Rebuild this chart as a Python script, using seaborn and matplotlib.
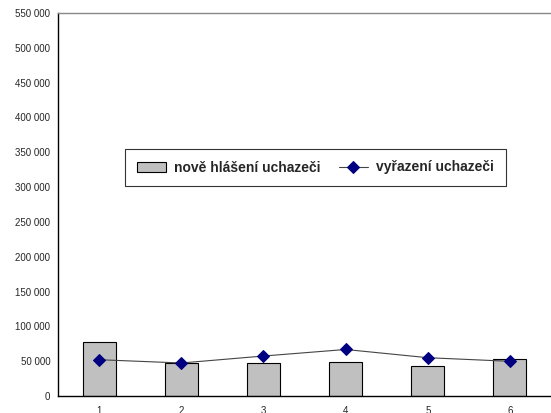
import pandas as pd
import matplotlib
matplotlib.use("Agg")
import matplotlib.pyplot as plt
import matplotlib.ticker as mticker
import seaborn as sns

# data
mesice = [1, 2, 3, 4, 5, 6]
nove_hlaseni = [77000, 47900, 47400, 48800, 42700, 53100]
vyrazeni = [52100, 47400, 57400, 66800, 55000, 49800]

df = pd.DataFrame({"mesic": mesice, "nove": nove_hlaseni, "vyrazeni": vyrazeni})

sns.set_style("white")
plt.rcParams["font.family"] = ["Liberation Sans", "DejaVu Sans"]

fig = plt.figure(figsize=(5.51, 4.13), dpi=100)
ax = fig.add_axes([58 / 551, 1 - 396 / 413, 1 - 58 / 551, (396 - 13) / 413])

# sloupce
sns.barplot(data=df, x="mesic", y="nove", native_scale=True, width=0.4,
            color="#C0C0C0", edgecolor="black", linewidth=0.8, saturation=1,
            ax=ax, label="nově hlášení uchazeči")

# čára s kosočtverci
sns.lineplot(data=df, x="mesic", y="vyrazeni", color="#444444", linewidth=0.8,
             marker="D", markersize=6.3, markerfacecolor="#000080",
             markeredgecolor="#000080", ax=ax, label="vyřazení uchazeči")

ax.set_xlim(0.5, 0.5 + (551 - 58) / 84.2)
ax.set_ylim(0, 550000)
ax.yaxis.set_major_locator(mticker.MultipleLocator(50000))
ax.yaxis.set_major_formatter(mticker.FuncFormatter(lambda v, p: f"{int(v):,}".replace(",", " ")))

# popisky na středech, čárky na hranicích
ax.set_xticks(mesice)
ax.set_xticklabels([str(m) for m in mesice])
ax.set_xticks([m + 0.5 for m in [0] + mesice], minor=True)
ax.tick_params(axis="x", which="major", length=0, pad=7, labelsize=7)
ax.tick_params(axis="x", which="minor", direction="inout", length=7, width=0.8, color="black")
ax.tick_params(axis="y", which="major", direction="inout", length=7, width=0.8,
               color="black", labelsize=7, pad=2)

ax.set_xlabel("")
ax.set_ylabel("")

ax.spines["right"].set_visible(False)
ax.spines["left"].set_color("black")
ax.spines["left"].set_linewidth(1)
ax.spines["bottom"].set_color("black")
ax.spines["bottom"].set_linewidth(1)
ax.spines["top"].set_color("#888888")
ax.spines["top"].set_linewidth(1)

# legenda: sloupce první
handles, labels = ax.get_legend_handles_labels()
order = [labels.index("nově hlášení uchazeči"), labels.index("vyřazení uchazeči")]
leg = ax.legend([handles[i] for i in order], [labels[i] for i in order],
                loc="center", bbox_to_anchor=(315.5 / 551, 1 - 167.5 / 413),
                bbox_transform=fig.transFigure, ncol=2, frameon=True,
                fancybox=False, prop={"weight": "bold", "size": 10},
                handlelength=2.1, handleheight=0.7, handletextpad=0.6,
                columnspacing=1.3, borderpad=0.85, borderaxespad=0)
leg.get_frame().set_edgecolor("black")
leg.get_frame().set_linewidth(0.8)

fig.savefig("out.png", dpi=100)
